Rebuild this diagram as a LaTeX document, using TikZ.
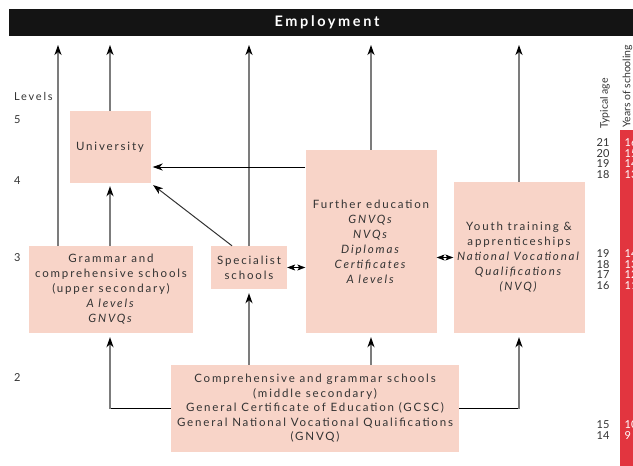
\documentclass[tikz,border=0pt]{standalone}
\usepackage{fontspec}
\setmainfont{Lato}[LetterSpace=16]
\newfontfamily\numfont{Lato}
\newfontfamily\headfont{Lato}[LetterSpace=18]
\usetikzlibrary{arrows.meta}
\definecolor{boxfill}{HTML}{F8D4C8}
\definecolor{barred}{HTML}{E2353F}
\definecolor{feedgray}{HTML}{7C7C7C}
\definecolor{inkgray}{HTML}{333333}
\tikzset{
  box/.style={fill=boxfill, draw=none, inner sep=0pt, align=center,
    font=\fontsize{11.5}{15}\selectfont, text=inkgray},
  tipk/.style={-{Stealth[length=10pt,width=7pt,inset=3pt,black]}},
  feed/.style={tipk, draw=feedgray, line width=1.6pt},
  thinarrow/.style={tipk, draw=black, line width=0.8pt},
  slant/.style={tipk, draw=inkgray, line width=1pt},
  link/.style={{Stealth[length=8pt,width=6pt,inset=2pt,black]}-{Stealth[length=8pt,width=6pt,inset=2pt,black]}, draw=black, line width=0.6pt},
  hline/.style={draw=black, line width=0.8pt},
  lvl/.style={anchor=west, inner sep=0pt, font=\fontsize{11}{12}\selectfont, text=inkgray},
  age/.style={inner sep=0pt, font=\numfont\fontsize{11}{11}\selectfont, text=inkgray},
  yrs/.style={anchor=west, inner sep=0pt, font=\numfont\fontsize{11}{11}\selectfont, text=white}
}
\begin{document}
\begin{tikzpicture}[x=1pt,y=-1pt]
\useasboundingbox (0,0) rectangle (633,466);
\begin{scope}
\clip (0,0) rectangle (633,466);

% top banner
\fill[black!92] (9,9) rectangle (633,36);
\node[font=\headfont\bfseries\fontsize{14.5}{15}\selectfont, text=white] (emp) at (327,22.5) {Employment};
\coordinate (top) at (0,45);

% level scale
\node[lvl] (levels) at (14,96) {Levels};
\node[lvl] (l5) at (14,120) {5};
\node[lvl] (l4) at (14,181) {4};
\node[lvl] (l3) at (14,258) {3};
\node[lvl] (l2) at (14,378) {2};

% institutions
\node[box, minimum width=81, minimum height=72] (uni) at (110,147) {University};
\node[box, minimum width=164, minimum height=87] (gram) at (111,289.5)
  {Grammar and\\comprehensive schools\\(upper secondary)\\\textit{A levels}\\\textit{GNVQs}};
\node[box, minimum width=76, minimum height=43] (spec) at (249,267.5) {Specialist\\schools};
\node[box, minimum width=131, minimum height=183] (fe) at (371,241.5)
  {Further education\\\textit{GNVQs}\\\textit{NVQs}\\\textit{Diplomas}\\\textit{Certificates}\\\textit{A levels}};
\node[box, minimum width=131, minimum height=151] (youth) at (519,257.5)
  {Youth training \&\\apprenticeships\\\textit{National Vocational}\\\textit{Qualifications}\\\textit{(NVQ)}};
\node[box, minimum width=288, minimum height=87, font=\fontsize{11.5}{14.5}\selectfont] (mid) at (315,408.5)
  {Comprehensive and grammar schools\\(middle secondary)\\General Certificate of Education (GCSC)\\General National Vocational Qualifications\\(GNVQ)};

% routes into employment
\coordinate (c1) at (58,45);
\draw[feed] (c1 |- gram.north) -- (c1);
\draw[feed] (uni.north) -- (uni.north |- top);
\draw[feed] (spec.north) -- (spec.north |- top);
\draw[feed] (fe.north) -- (fe.north |- top);
\draw[feed] (youth.north) -- (youth.north |- top);

% routes into university
\draw[feed, shorten >=3pt] (gram.north -| uni.south) -- (uni.south);
\draw[thinarrow, shorten >=2pt] ([yshift=-20pt]uni.east -| fe.west) -- ([yshift=-20pt]uni.east);
\draw[slant, shorten >=3pt] ([xshift=-17pt]spec.north) -- (uni.south east);

% transfers between post-16 routes
\draw[link] (spec.east) -- (spec.east -| fe.west);
\draw[link] (youth.west -| fe.east) -- (youth.west);

% routes from middle secondary
\draw[hline] (mid.west) -- (mid.west -| uni.south);
\draw[feed, shorten >=4pt] (mid.west -| uni.south) -- (gram.south -| uni.south);
\draw[hline] (mid.east) -- (mid.east -| youth.south);
\draw[feed, shorten >=4pt] (mid.east -| youth.south) -- (youth.south);
\draw[feed, shorten >=4pt] (mid.north -| spec.south) -- (spec.south);
\draw[feed, shorten >=4pt] (mid.north -| fe.south) -- (fe.south);

% age and schooling strip
\fill[barred] (620,130) rectangle (633,466);
\node[rotate=90, anchor=west, inner sep=0pt, font=\numfont\fontsize{10.5}{11}\selectfont, text=inkgray] (agehead) at (605,129) {Typical age};
\node[rotate=90, anchor=west, inner sep=0pt, font=\numfont\fontsize{10.5}{11}\selectfont, text=inkgray] (yrshead) at (627.5,128) {Years of schooling};

\node[age] (a21) at (603,143) {21};
\node[age] (a20) at (603,153.5) {20};
\node[age] (a19) at (603,164) {19};
\node[age] (a18) at (603,174.5) {18};
\node[age] (b19) at (603,254) {19};
\node[age] (b18) at (603,264.5) {18};
\node[age] (b17) at (603,275) {17};
\node[age] (b16) at (603,285.5) {16};
\node[age] (a15) at (603,425) {15};
\node[age] (a14) at (603,436) {14};

\node[yrs] (y16) at (624.5,143) {16};
\node[yrs] (y15) at (624.5,153.5) {15};
\node[yrs] (y14) at (624.5,164) {14};
\node[yrs] (y13) at (624.5,174.5) {13};
\node[yrs] (z14) at (624.5,254) {14};
\node[yrs] (z13) at (624.5,264.5) {13};
\node[yrs] (z12) at (624.5,275) {12};
\node[yrs] (z11) at (624.5,285.5) {11};
\node[yrs] (y10) at (624.5,425) {10};
\node[yrs] (y9) at (624.5,436) {9};
\end{scope}
\end{tikzpicture}
\end{document}
